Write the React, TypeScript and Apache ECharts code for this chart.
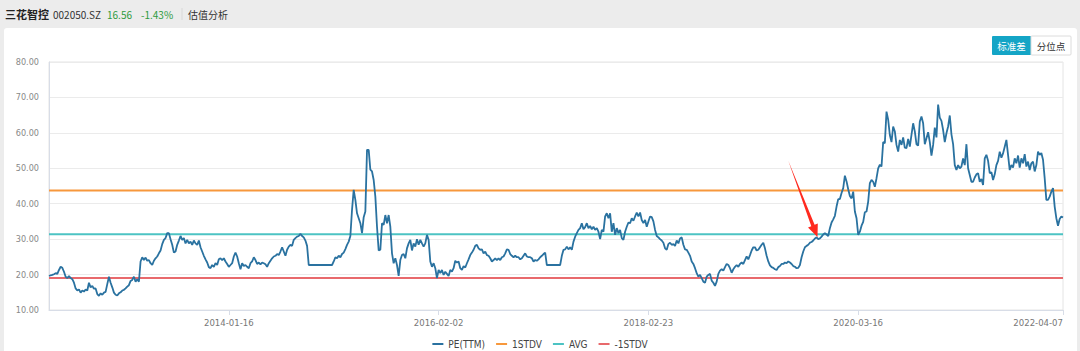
import React, { useEffect, useRef } from "react";
import * as echarts from "echarts";

// ---- data ----
const tickDates = ["2014-01-16", "2016-02-02", "2018-02-23", "2020-03-16", "2022-04-07"];
const tickIndices = [108, 234, 360, 486, 609];

const peSeg1 = [
  19.6, 19.8, 19.9, 20.1, 20.4, 20.2, 21.3, 22.2, 21.9, 20.8,
  19.4, 19.0, 19.6, 19.0, 18.7, 17.7, 16.1, 15.5, 15.8, 14.9,
  15.5, 15.2, 15.8, 15.5, 17.7, 16.4, 16.8, 16.0, 16.1, 14.5,
  14.0, 14.7, 14.3, 14.9, 15.1, 17.3, 19.4, 17.7, 16.4, 14.9,
  14.3, 14.1, 14.7, 15.0, 15.5, 15.7, 16.1, 16.6, 17.0, 18.2,
  18.5, 19.4, 18.0, 18.7, 18.0, 23.7, 24.9, 24.1, 24.8, 23.9,
  24.1, 23.2, 22.7, 23.9, 24.6, 25.1, 26.0, 26.8, 28.6, 29.8,
  30.3, 31.7, 31.7, 30.0, 28.4, 26.2, 26.5, 28.4, 29.6, 30.9,
  29.8, 30.3, 28.8, 29.8, 28.8, 29.3, 28.4, 29.6, 28.8, 28.4,
  29.6, 27.7, 26.5, 25.3, 24.3, 23.4, 22.1, 21.8, 22.7, 22.2,
  23.2, 22.7, 24.3, 24.6, 24.1, 24.6, 23.7, 23.0, 22.2, 22.7,
  23.2, 25.1, 26.2, 25.1, 23.2, 21.5, 23.2, 22.4, 22.7, 22.2,
  21.8,
];
const peSeg2 = [
  23.2, 23.7, 24.9, 24.1, 23.0, 23.4, 22.9, 23.4, 23.2, 22.9,
  22.2, 23.2, 23.9, 24.6, 25.1, 25.3, 25.8, 25.5, 26.5, 27.7,
  26.5, 25.3, 27.0, 27.9, 28.4, 28.1, 29.8, 30.3, 30.7, 30.9,
  31.5, 30.9, 30.5, 29.6, 28.1, 22.7, 22.7, 22.7, 22.7, 22.7,
  22.7, 22.7, 22.7, 22.7, 22.7, 22.7, 22.7, 22.7, 22.7, 22.7,
  23.7, 24.9, 24.6, 25.3, 24.9, 25.8, 26.2, 27.2, 28.4, 29.3,
  30.9, 38.3, 43.9, 41.1, 37.3, 35.9, 34.5, 31.7, 36.2, 37.8,
  55.2, 55.2, 49.6, 49.1, 46.7, 42.0, 33.5, 26.8, 27.0, 34.5,
  34.0, 36.8, 34.5, 36.8, 33.5, 26.0, 23.2, 24.6, 22.7, 19.6,
  24.1, 25.5, 25.8, 24.6, 27.4, 28.8, 29.8, 26.8, 28.8, 27.9,
  30.0, 28.4, 29.8, 28.8, 27.9, 28.8, 31.2, 29.8, 23.7, 22.2,
  23.2, 21.8, 19.0, 21.3, 20.4, 21.3, 19.9, 20.8,
];
const peSeg3 = [
  20.2, 19.6, 21.3, 20.8, 21.8, 23.9, 23.4, 23.7, 21.8, 21.3,
  22.4, 22.0, 23.2, 24.3, 25.5, 26.2, 27.0, 28.1, 28.4, 27.4,
  27.0, 27.1, 26.0, 26.5, 25.5, 25.3, 24.6, 23.7, 24.1, 24.6,
  24.1, 24.6, 24.1, 24.9, 25.1, 26.0, 27.1, 27.0, 25.8, 25.3,
  24.9, 25.3, 24.9, 24.9, 24.3, 24.6, 25.3, 26.0, 25.1, 24.9,
  24.9, 24.6, 23.7, 24.1, 23.9, 24.3, 24.9, 25.3, 25.8, 26.2,
  22.7, 22.7, 22.7, 22.7, 22.7, 22.7, 22.7, 22.7, 22.7, 25.3,
  27.0, 27.1, 27.9, 27.1, 27.7, 27.0, 29.3, 30.7, 31.7, 32.6,
  33.1, 34.5, 32.8, 33.4, 34.5, 33.1, 33.7, 32.8, 33.5, 32.6,
  33.1, 32.1, 30.0, 32.6, 32.1, 36.4, 37.3, 35.9, 37.3, 32.1,
  34.5, 31.2, 33.1, 31.7, 32.6, 30.3, 29.8, 32.1, 33.5, 34.7,
  34.5, 35.9, 35.2, 36.4, 37.5, 36.4, 37.5, 35.4, 34.5, 35.4,
  33.5, 35.0,
];
const peSeg4 = [
  36.4, 36.2, 35.0, 32.6, 30.9, 30.5, 30.0, 29.6, 29.0, 27.4,
  27.0, 28.6, 29.0, 28.4, 28.6, 28.1, 29.6, 28.8, 30.2, 30.5,
  28.4, 27.1, 27.0, 26.2, 25.3, 23.7, 23.0, 21.8, 20.4, 19.4,
  19.9, 19.0, 18.0, 17.7, 19.4, 19.9, 20.2, 18.3, 17.7, 16.8,
  18.0, 20.2, 21.1, 21.5, 21.1, 22.1, 23.0, 22.7, 21.8, 20.5,
  21.5, 22.2, 22.7, 22.2, 23.0, 23.4, 23.0, 24.1, 25.1, 24.3,
  25.5, 26.8, 27.7, 27.7, 26.8, 27.0, 27.7, 28.4, 29.0, 27.4,
  25.3, 23.7, 22.6, 22.1, 21.9, 21.5, 21.3, 22.1, 22.4, 23.0,
  23.0, 23.4, 23.2, 23.7, 23.4, 23.0, 22.4, 22.2, 21.8, 21.9,
  22.7, 24.9, 26.5, 27.7, 28.1, 28.4, 29.0, 29.2, 29.6, 30.2,
  30.5, 30.0, 30.2, 30.7, 31.3, 31.7, 31.3, 30.9, 33.1, 34.7,
  35.6, 36.6, 39.2, 41.3, 41.3, 43.0, 44.4, 47.9, 46.3, 44.1,
  42.2,
];
const peSeg5 = [
  41.5, 43.4, 37.8, 35.9, 31.2, 32.1, 33.8, 34.9, 37.6, 37.8,
  40.6, 45.8, 46.7, 46.2, 44.8, 47.2, 50.0, 51.0, 50.5, 57.4,
  57.1, 66.0, 63.7, 59.4, 57.4, 61.8, 60.4, 56.6, 54.7, 58.0,
  56.6, 58.7, 55.8, 55.7, 58.3, 56.1, 59.4, 62.7, 60.4, 56.8,
  56.4, 63.2, 64.6, 62.7, 56.8, 58.5, 60.2, 57.4, 53.6, 56.6,
  61.5, 58.7, 68.0, 64.3, 63.4, 60.8, 57.4, 59.9, 61.8, 64.9,
  59.6, 56.8, 50.9, 49.5, 50.9, 50.0, 50.5, 52.8, 50.9, 56.8,
  50.0, 48.1, 46.2, 46.2, 47.4, 48.3, 48.6, 46.2, 47.0, 45.3,
  52.8, 53.8, 52.1, 48.6, 48.9, 46.7, 48.3, 50.9, 52.1, 54.7,
  53.0, 54.2, 56.1, 58.0, 53.8, 49.5, 50.9, 50.2, 52.8, 51.4,
  53.6, 50.2, 52.8, 51.4, 54.0, 50.5, 51.9, 49.5, 51.4, 51.9,
  49.1, 50.9, 54.7, 53.8, 54.3, 52.4, 47.2, 41.1, 41.1, 42.0,
  43.4, 44.4, 39.2, 35.9, 33.8, 35.7, 36.4, 36.1,
];
const peValues = [...peSeg1, ...peSeg2, ...peSeg3, ...peSeg4, ...peSeg5];

const stdvUp = [43.7];
const avgLevel = [31.4];
const stdvDown = [19.0];

const seriesNames = ["PE(TTM)", "1STDV", "AVG", "-1STDV"];
const seriesColors = ["#2a72a0", "#f7983c", "#4cc3c3", "#e8696c"];

// categories (trading dates) built from the tick anchors
function buildCategories(n: number): string[] {
  const ms = tickDates.map((d) => Date.parse(d + "T00:00:00Z"));
  const out: string[] = [];
  for (let i = 0; i < n; i++) {
    let k = 0;
    while (k < tickIndices.length - 2 && i > tickIndices[k + 1]) k++;
    const i0 = tickIndices[k], i1 = tickIndices[k + 1];
    const t = ms[k] + ((ms[k + 1] - ms[k]) * (i - i0)) / (i1 - i0);
    out.push(new Date(t).toISOString().slice(0, 10));
  }
  return out;
}

const NARROW = '"Liberation Sans Narrow", "DejaVu Sans Condensed", "Liberation Sans", sans-serif';
const CJK = '"Noto Sans CJK SC", "Noto Sans", sans-serif';

export default function App() {
  const ref = useRef<HTMLDivElement>(null);
  useEffect(() => {
    if (!ref.current) return;
    const chart = echarts.init(ref.current, undefined, { renderer: "svg" });
    const categories = buildCategories(peValues.length);
    const first = categories[0];
    const last = categories[categories.length - 1];
    const showIdx = (i: number) => tickIndices.indexOf(i) >= 0;
    const hline = (name: string, v: number, color: string) => ({
      name,
      type: "line",
      data: [[first, v], [last, v]],
      symbol: "none",
      lineStyle: { width: 2, color },
      itemStyle: { color },
      z: 2,
    });
    chart.setOption({
      animation: false,
      backgroundColor: "transparent",
      textStyle: { fontFamily: NARROW },
      grid: {
        left: 49,
        right: 17,
        top: 62,
        bottom: 41,
        show: true,
        borderColor: "#e4e4e4",
        borderWidth: 1,
      },
      xAxis: {
        type: "category",
        data: categories,
        boundaryGap: false,
        axisLine: { lineStyle: { color: "#d8dde7" } },
        axisTick: { show: true, interval: showIdx, length: 5, lineStyle: { color: "#d8dde7" } },
        axisLabel: {
          interval: showIdx,
          color: "#777",
          fontSize: 9.5,
          fontFamily: NARROW,
          margin: 7,
          alignMaxLabel: "right",
        },
        splitLine: { show: false },
      },
      yAxis: {
        type: "value",
        min: 10,
        max: 80,
        interval: 10,
        axisLine: { show: true, lineStyle: { color: "#d8dde7" } },
        axisTick: { show: false },
        axisLabel: {
          formatter: (v: number) => v.toFixed(2),
          color: "#888",
          fontSize: 9,
          fontFamily: NARROW,
          margin: 10,
        },
        splitLine: { lineStyle: { color: "#ebebeb" } },
      },
      legend: {
        data: seriesNames,
        top: 334,
        left: "center",
        icon: "rect",
        itemWidth: 11,
        itemHeight: 2,
        itemGap: 11,
        textStyle: { fontSize: 10, color: "#444", fontFamily: NARROW },
      },
      series: [
        {
          name: seriesNames[0],
          type: "line",
          data: peValues,
          symbol: "none",
          lineStyle: { width: 1.8, color: seriesColors[0] },
          itemStyle: { color: seriesColors[0] },
          z: 4,
        },
        hline(seriesNames[1], stdvUp[0], seriesColors[1]),
        hline(seriesNames[2], avgLevel[0], seriesColors[2]),
        hline(seriesNames[3], stdvDown[0], seriesColors[3]),
      ],
      graphic: [
        { type: "text", x: 5, y: 14, style: { text: "三花智控", fill: "#222", font: `bold 11px ${CJK}`, verticalAlign: "middle" } },
        { type: "text", x: 53, y: 14, style: { text: "002050.SZ", fill: "#333", font: `10px ${CJK}`, verticalAlign: "middle" } },
        { type: "text", x: 107, y: 14, style: { text: "16.56", fill: "#2e9b3e", font: `10px ${CJK}`, verticalAlign: "middle" } },
        { type: "text", x: 141, y: 14, style: { text: "-1.43%", fill: "#2e9b3e", font: `10px ${CJK}`, verticalAlign: "middle" } },
        { type: "line", shape: { x1: 182, y1: 8, x2: 182, y2: 20 }, style: { stroke: "#d8d8d8", lineWidth: 1 } },
        { type: "text", x: 188, y: 14, style: { text: "估值分析", fill: "#333", font: `10px ${CJK}`, verticalAlign: "middle" } },
        { type: "rect", shape: { x: 992, y: 36, width: 39, height: 19, r: 1 }, style: { fill: "#14a5c6" } },
        { type: "text", x: 1011.5, y: 45.5, style: { text: "标准差", fill: "#fff", font: `9.5px ${CJK}`, align: "center", verticalAlign: "middle" } },
        { type: "rect", shape: { x: 1031, y: 36, width: 40, height: 19, r: 1 }, style: { fill: "#fff", stroke: "#dcdcdc", lineWidth: 1 } },
        { type: "text", x: 1051, y: 45.5, style: { text: "分位点", fill: "#333", font: `9.5px ${CJK}`, align: "center", verticalAlign: "middle" } },
        {
          type: "polygon",
          z: 100,
          shape: {
            points: [
              [788.3, 160.7],
              [814.6, 224.8],
              [817.8, 223.5],
              [817.5, 237.0],
              [808.0, 227.6],
              [811.3, 226.2],
            ],
          },
          style: { fill: "#ff2a1f" },
        },
      ],
    });
    return () => chart.dispose();
  }, []);
  return (
    <div style={{ position: "absolute", left: 0, top: 0, width: 1080, height: 351, background: "#ececec", overflow: "hidden" }}>
      <div style={{ position: "absolute", left: 4, top: 28, width: 1073, height: 330, background: "#fff", borderRadius: 3 }} />
      <div ref={ref} style={{ position: "absolute", left: 0, top: 0, width: 1080, height: 351 }} />
    </div>
  );
}
